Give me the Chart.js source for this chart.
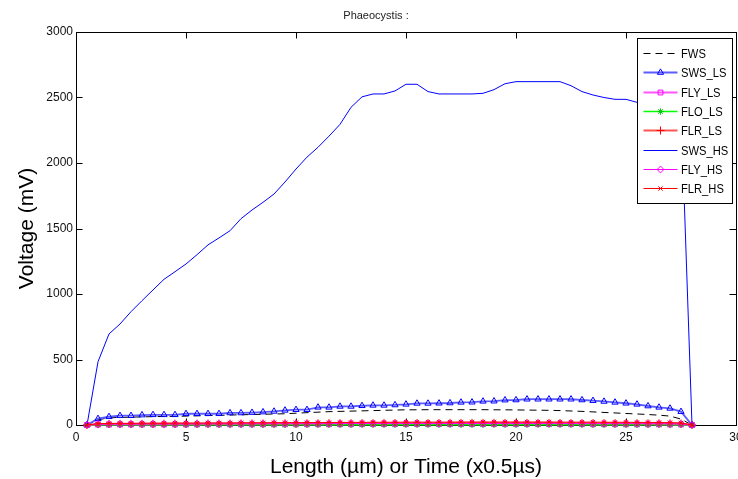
<!DOCTYPE html>
<html><head><meta charset="utf-8">
<script src="https://cdn.jsdelivr.net/npm/chart.js@4/dist/chart.umd.min.js"></script>
<style>html,body{margin:0;padding:0;background:#fff;overflow:hidden;}#wrap{width:738px;height:479px;position:relative;overflow:hidden;}</style>
</head><body><div id="wrap"><canvas id="c" width="741" height="479"></canvas></div>
<script>
const chartTitle = 'Phaeocystis :';
const xAxisLabel = 'Length (µm) or Time (x0.5µs)';
const yAxisLabel = 'Voltage (mV)';
const xTickValues = [0, 5, 10, 15, 20, 25, 30];
const yTickValues = [0, 500, 1000, 1500, 2000, 2500, 3000];
const seriesNames = ['FWS', 'SWS_LS', 'FLY_LS', 'FLO_LS', 'FLR_LS', 'SWS_HS', 'FLY_HS', 'FLR_HS'];

const lengths = [0.5, 1, 1.5, 2, 2.5, 3, 3.5, 4, 4.5, 5,
  5.5, 6, 6.5, 7, 7.5, 8, 8.5, 9, 9.5, 10,
  10.5, 11, 11.5, 12, 12.5, 13, 13.5, 14, 14.5, 15,
  15.5, 16, 16.5, 17, 17.5, 18, 18.5, 19, 19.5, 20,
  20.5, 21, 21.5, 22, 22.5, 23, 23.5, 24, 24.5, 25,
  25.5, 26, 26.5, 27, 27.5, 28];

const FWS = [0, 40, 55, 58, 60, 62, 64, 65, 66, 68,
  70, 72, 74, 76, 78, 80, 82, 84, 86, 90,
  94, 98, 102, 104, 106, 108, 110, 112, 114, 116,
  116, 117, 117, 117, 117, 117, 117, 116, 116, 115,
  114, 113, 112, 110, 107, 104, 100, 96, 92, 88,
  84, 80, 75, 68, 45, 0];

const SWS_LS = [0, 48, 63, 71, 71, 76, 78, 78, 78, 86,
  86, 86, 86, 92, 92, 95, 99, 104, 112, 117,
  117, 135, 135, 142, 142, 147, 150, 150, 153, 158,
  165, 165, 166, 168, 173, 174, 181, 182, 190, 191,
  197, 197, 197, 197, 197, 191, 186, 180, 173, 166,
  158, 145, 135, 127, 102, 0];

const FLY_LS = [0, 3, 3, 4, 4, 4, 4, 4, 4, 4,
  4, 5, 5, 5, 5, 5, 5, 5, 5, 5,
  5, 5, 5, 5, 5, 6, 6, 6, 6, 6,
  6, 6, 6, 6, 6, 6, 6, 6, 6, 6,
  6, 6, 6, 6, 6, 6, 5, 5, 5, 5,
  5, 5, 5, 4, 4, 0];

const FLO_LS = [0, 1, 1, 1, 1, 1, 1, 1, 1, 1,
  1, 1, 1, 1, 1, 1, 1, 1, 1, 1,
  2, 2, 2, 2, 2, 2, 2, 2, 2, 2,
  2, 2, 2, 2, 2, 2, 2, 2, 2, 2,
  2, 2, 2, 2, 2, 2, 2, 2, 2, 1,
  1, 1, 1, 1, 1, 0];

const FLR_LS = [0, 7, 8, 9, 9, 9, 10, 10, 10, 10,
  11, 11, 11, 11, 12, 12, 12, 12, 13, 13,
  13, 13, 14, 14, 14, 14, 14, 15, 15, 15,
  15, 15, 15, 16, 16, 16, 16, 16, 16, 16,
  16, 16, 16, 15, 15, 15, 15, 15, 14, 14,
  14, 13, 13, 12, 11, 0];

const SWS_HS = [0, 483, 695, 771, 865, 949, 1031, 1112, 1170, 1229,
  1300, 1375, 1428, 1483, 1575, 1641, 1700, 1763, 1855, 1954,
  2045, 2120, 2205, 2295, 2425, 2505, 2527, 2527, 2550, 2601,
  2601, 2545, 2527, 2527, 2527, 2527, 2532, 2560, 2605, 2621,
  2621, 2621, 2621, 2621, 2590, 2545, 2519, 2500, 2486, 2486,
  2463, 2450, 2440, 2435, 2430, 0];

const FLY_HS = [0, 6, 7, 7, 7, 8, 8, 8, 8, 8,
  9, 9, 9, 9, 9, 9, 10, 10, 10, 10,
  10, 10, 10, 11, 11, 11, 11, 11, 11, 11,
  11, 11, 11, 11, 11, 11, 11, 11, 11, 11,
  11, 11, 11, 11, 11, 10, 10, 10, 10, 10,
  10, 9, 9, 9, 8, 0];

const FLR_HS = [0, 10, 12, 13, 13, 14, 14, 14, 15, 15,
  15, 16, 16, 16, 17, 17, 17, 18, 18, 18,
  19, 19, 19, 20, 20, 20, 21, 21, 21, 22,
  22, 22, 22, 22, 23, 23, 23, 23, 23, 23,
  23, 23, 23, 22, 22, 22, 22, 21, 21, 21,
  20, 20, 19, 18, 16, 0];

const seriesValues = [FWS, SWS_LS, FLY_LS, FLO_LS, FLR_LS, SWS_HS, FLY_HS, FLR_HS];

const styles = [
  {color: '#000000', width: 1, dash: [7, 5], point: false, pointStyle: 'circle', r: 0},
  {color: '#5c5cff', width: 1.8, dash: [], point: true, pointStyle: 'triangle', r: 3.6, pcolor: '#0000ff'},
  {color: '#ff55ff', width: 1.8, dash: [], point: true, pointStyle: 'rect', r: 3.4, pcolor: '#ff00ff'},
  {color: '#00ff00', width: 1.5, dash: [], point: true, pointStyle: 'star', r: 3.2, pcolor: '#00cc00'},
  {color: '#ff5555', width: 1.8, dash: [], point: true, pointStyle: 'cross', r: 4, pcolor: '#ff0000'},
  {color: '#0000ff', width: 1, dash: [], point: false, pointStyle: 'circle', r: 0},
  {color: '#ff00ff', width: 1, dash: [], point: true, pointStyle: 'rectRot', r: 3.4, pcolor: '#ff00ff'},
  {color: '#ff0000', width: 1, dash: [], point: true, pointStyle: 'crossRot', r: 3, pcolor: '#ff0000'}
];

const datasets = seriesNames.map((name, i) => {
  const s = styles[i];
  return {
    label: name,
    data: lengths.map((x, j) => ({x: x, y: seriesValues[i][j]})),
    borderColor: s.color,
    borderWidth: s.width,
    borderDash: s.dash,
    backgroundColor: 'rgba(0,0,0,0)',
    pointStyle: s.pointStyle,
    pointRadius: s.point ? s.r : 0,
    pointBorderColor: s.pcolor || s.color,
    pointBackgroundColor: 'rgba(0,0,0,0)',
    pointBorderWidth: 1,
    pointHoverRadius: s.point ? s.r : 0,
    tension: 0,
    fill: false,
    clip: false,
    order: seriesNames.length - i
  };
});

const tickFont = {family: "'Liberation Sans', Arial, sans-serif", size: 12};

const framePlugin = {
  id: 'frame',
  beforeDatasetsDraw(chart) {
    const ctx = chart.ctx, ca = chart.chartArea;
    const xs = chart.scales.x, ys = chart.scales.y;
    const tl = 6.5;
    ctx.save();
    ctx.strokeStyle = '#000';
    ctx.lineWidth = 1;
    ctx.strokeRect(Math.round(ca.left) + 0.5, Math.round(ca.top) + 0.5, Math.round(ca.right - ca.left), Math.round(ca.bottom - ca.top));
    ctx.beginPath();
    xTickValues.forEach(v => {
      const px = Math.round(xs.getPixelForValue(v)) + 0.5;
      ctx.moveTo(px, ca.bottom); ctx.lineTo(px, ca.bottom - tl);
      ctx.moveTo(px, ca.top); ctx.lineTo(px, ca.top + tl);
    });
    yTickValues.forEach(v => {
      const py = Math.round(ys.getPixelForValue(v)) + 0.5;
      ctx.moveTo(ca.left, py); ctx.lineTo(ca.left + tl, py);
      ctx.moveTo(ca.right, py); ctx.lineTo(ca.right - tl, py);
    });
    ctx.stroke();
    ctx.restore();
  },
  afterDraw(chart) {
    const ctx = chart.ctx, ca = chart.chartArea;
    ctx.save();
    ctx.fillStyle = '#222';
    ctx.font = "11px 'Liberation Sans', Arial, sans-serif";
    ctx.textAlign = 'center';
    ctx.textBaseline = 'middle';
    ctx.fillText(chartTitle, (ca.left + ca.right) / 2 - 30, ca.top - 16);
    ctx.restore();
  }
};

const legendPlugin = {
  id: 'matlabLegend',
  afterDatasetsDraw(chart) {
    const ctx = chart.ctx, ca = chart.chartArea;
    const x0 = Math.round(ca.right) - 98.5, y0 = Math.round(ca.top) + 6.5;
    const w = 95, rowH = 19.3, h = 165;
    ctx.save();
    ctx.fillStyle = '#fff';
    ctx.fillRect(x0, y0, w, h);
    ctx.strokeStyle = '#000';
    ctx.lineWidth = 1;
    ctx.strokeRect(x0, y0, w, h);
    chart.data.datasets.forEach((ds, i) => {
      const y = Math.round(y0 + 14.5 + i * rowH) + 0.5;
      const lx1 = x0 + 6, lx2 = x0 + 40, mx = (lx1 + lx2) / 2;
      ctx.save();
      ctx.strokeStyle = ds.borderColor;
      ctx.lineWidth = ds.borderWidth;
      ctx.setLineDash(ds.borderDash || []);
      ctx.beginPath();
      ctx.moveTo(lx1, y); ctx.lineTo(lx2, y);
      ctx.stroke();
      ctx.restore();
      if (ds.pointRadius > 0) {
        ctx.save();
        ctx.strokeStyle = ds.pointBorderColor;
        ctx.fillStyle = 'rgba(0,0,0,0)';
        ctx.lineWidth = 1;
        Chart.helpers.drawPoint(ctx, {pointStyle: ds.pointStyle, radius: ds.pointRadius, rotation: 0, borderWidth: 1}, mx, y);
        ctx.restore();
      }
      ctx.save();
      ctx.fillStyle = '#000';
      ctx.font = "13px 'Liberation Sans', Arial, sans-serif";
      ctx.textAlign = 'left';
      ctx.textBaseline = 'middle';
      const tx = x0 + 43.5;
      ctx.translate(tx, y);
      ctx.scale(0.86, 1);
      ctx.fillText(ds.label, 0, 0.5);
      ctx.restore();
    });
    ctx.restore();
  }
};

new Chart(document.getElementById('c'), {
  type: 'line',
  data: {datasets: datasets},
  plugins: [framePlugin, legendPlugin],
  options: {
    responsive: false,
    animation: false,
    events: [],
    layout: {padding: {top: 32, right: 0, left: 0, bottom: 0}},
    plugins: {legend: {display: false}, title: {display: false}, tooltip: {enabled: false}},
    scales: {
      x: {
        type: 'linear', min: 0, max: 30,
        afterBuildTicks: (s) => { s.ticks = xTickValues.map(v => ({value: v})); },
        afterFit: (s) => { s.height = 54; s.paddingLeft = 0; s.paddingRight = 0; },
        grid: {display: false, drawTicks: false},
        border: {display: false},
        ticks: {font: tickFont, color: '#111', padding: 5, maxRotation: 0, autoSkip: false, callback: (v) => String(v)},
        title: {display: true, text: xAxisLabel, color: '#000', font: {family: "'Liberation Sans', Arial, sans-serif", size: 21, lineHeight: 1.1}, padding: {top: 0, bottom: 0}}
      },
      y: {
        type: 'linear', min: 0, max: 3000,
        afterBuildTicks: (s) => { s.ticks = yTickValues.map(v => ({value: v})); },
        afterFit: (s) => { s.width = 76; s.paddingTop = 0; s.paddingBottom = 0; },
        grid: {display: false, drawTicks: false},
        border: {display: false},
        ticks: {font: tickFont, color: '#111', padding: 3, autoSkip: false, callback: (v) => String(v)},
        title: {display: true, text: yAxisLabel, color: '#000', font: {family: "'Liberation Sans', Arial, sans-serif", size: 21}, padding: {top: 15, bottom: 0}}
      }
    }
  }
});
</script>
</body></html>
